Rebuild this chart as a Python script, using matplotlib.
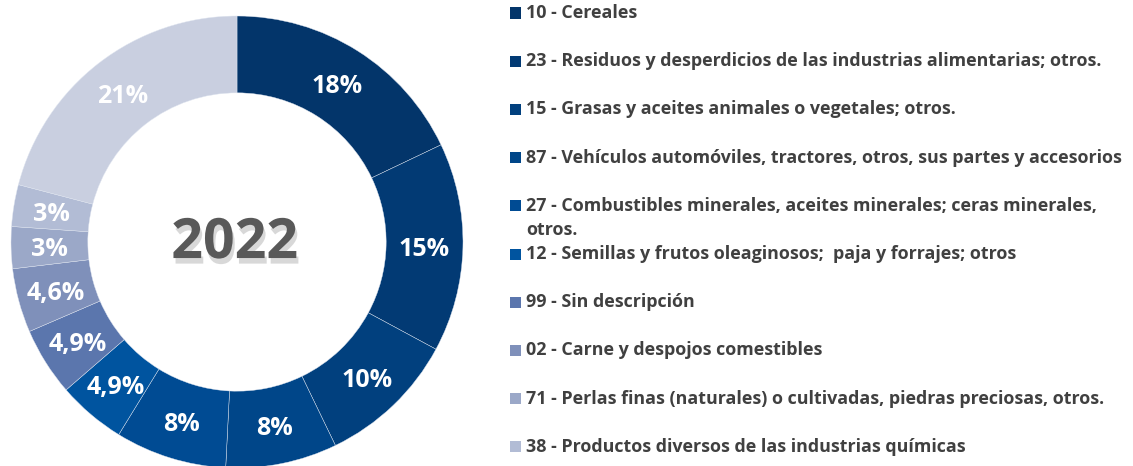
import matplotlib
matplotlib.use("Agg")
from matplotlib import pyplot as plt
from matplotlib.patches import Rectangle
import matplotlib.patheffects as pe

# slice values (% of 2022 total), clockwise from 12 o'clock
values = [18, 15, 10, 8, 8, 4.9, 4.9, 4.6, 3, 3, 21]
value_labels = ["18%", "15%", "10%", "8%", "8%", "4,9%", "4,9%", "4,6%", "3%", "3%", "21%"]
colors = ["#03356A", "#023A74", "#01407E", "#004689", "#004B93", "#00549F",
          "#5B76AD", "#7F90BA", "#9BA8C8", "#B2BCD5", "#C9CFE0"]
legend_labels = [
    "10 - Cereales",
    "23 - Residuos y desperdicios de las industrias alimentarias; otros.",
    "15 - Grasas y aceites animales o vegetales; otros.",
    "87 - Vehículos automóviles, tractores, otros, sus partes y accesorios",
    "27 - Combustibles minerales, aceites minerales; ceras minerales,\notros.",
    "12 - Semillas y frutos oleaginosos;  paja y forrajes; otros",
    "99 - Sin descripción",
    "02 - Carne y despojos comestibles",
    "71 - Perlas finas (naturales) o cultivadas, piedras preciosas, otros.",
    "38 - Productos diversos de las industrias químicas",
]
center_text = "2022"

plt.rcParams["font.family"] = ["Open Sans", "DejaVu Sans"]

W, H = 1133, 466
fig = plt.figure(figsize=(W / 100, H / 100), dpi=100)

# donut: centre (237, 242) px from top-left, outer radius 226 px
cx, cy, r = 237, 242, 226
ax = fig.add_axes([(cx - r) / W, (H - cy - r) / H, 2 * r / W, 2 * r / H])
wedges, texts = ax.pie(values, colors=colors, startangle=90, counterclock=False,
                       radius=1, labels=value_labels, labeldistance=0.83,
                       wedgeprops=dict(width=0.34, edgecolor="#dfe5f0", linewidth=0.3),
                       textprops=dict(color="white", fontsize=18, fontweight="bold",
                                      ha="center", va="center_baseline"))
ax.set_xlim(-1, 1)
ax.set_ylim(-1, 1)
ax.set_aspect("equal")
ax.axis("off")

ax.text(-0.01, -0.071, center_text, ha="center", va="baseline", fontsize=40,
        fontweight="bold", color="#595959",
        path_effects=[pe.SimplePatchShadow(offset=(1.5, -4), alpha=0.22, rho=0.9),
                      pe.Normal()])

# legend drawn by hand (fixed row pitch, wrapped line overflows)
x_box, x_txt = 510, 526
y0, dy = 13, 48.2
for i, lab in enumerate(legend_labels):
    y = y0 + i * dy
    fig.add_artist(Rectangle((x_box / W, (H - y - 5.5) / H), 11 / W, 11 / H,
                             transform=fig.transFigure, facecolor=colors[i],
                             edgecolor="none"))
    lines = lab.split("\n")
    for j, line in enumerate(lines):
        fig.text(x_txt / W, (H - y - j * 24) / H, line, ha="left", va="center",
                 fontsize=12.9, fontweight="bold", color="#404040")

fig.savefig("out.png", dpi=100)
